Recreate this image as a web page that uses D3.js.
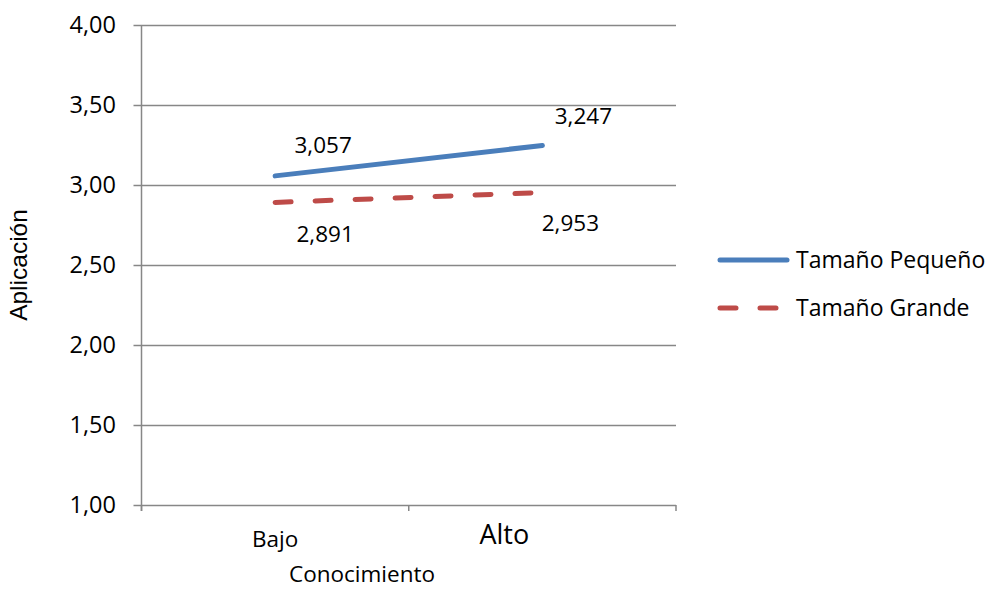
<!DOCTYPE html>
<html><head><meta charset="utf-8">
<script src="https://cdn.jsdelivr.net/npm/d3@7"></script>
<style>body{margin:0;background:#fff}text{fill:#000}</style>
</head><body>
<svg id="c" width="987" height="589"></svg>
<script>
const categories = ["Bajo", "Alto"];
const seriesNames = ["Tamaño Pequeño", "Tamaño Grande"];
const pequeno = [3.057, 3.247];
const grande = [2.891, 2.953];
const yTicks = [1.0, 1.5, 2.0, 2.5, 3.0, 3.5, 4.0];
const xTitle = "Conocimiento";
const yTitle = "Aplicación";

const svg = d3.select("#c");
const L = 141.5, R = 676, T = 25, B = 505;
const x = d3.scaleBand().domain(categories).range([L, R]);
const y = d3.scaleLinear().domain([1, 4]).range([B, T]);
const fmt = v => d3.format(".2f")(v).replace(".", ",");
const fmt3 = v => d3.format(".3f")(v).replace(".", ",");
const grid = "#878787";
const font = "'Open Sans', sans-serif";

// gridlines
svg.append("g").selectAll("line").data(yTicks).join("line")
  .attr("x1", L - 8).attr("x2", R)
  .attr("y1", d => Math.round(y(d)) + 0.5).attr("y2", d => Math.round(y(d)) + 0.5)
  .attr("stroke", grid).attr("stroke-width", 1.5);

// y axis line
svg.append("line").attr("x1", L).attr("x2", L).attr("y1", T).attr("y2", B + 6)
  .attr("stroke", grid).attr("stroke-width", 1.5);
// x tick marks at band edges
const edges = [L, ...categories.map(c => x(c) + x.bandwidth())];
svg.append("g").selectAll("line").data(edges).join("line")
  .attr("x1", d => d).attr("x2", d => d).attr("y1", B).attr("y2", B + 6)
  .attr("stroke", grid).attr("stroke-width", 1.5);

// y tick labels
svg.append("g").selectAll("text").data(yTicks).join("text")
  .attr("x", 116).attr("y", d => y(d) + 8).attr("text-anchor", "end")
  .attr("font-family", font).attr("font-size", 23.5).text(fmt);

// x category labels (different sizes as in reference)
svg.append("text").attr("x", x("Bajo") + x.bandwidth() / 2).attr("y", 547)
  .attr("text-anchor", "middle").attr("font-family", font).attr("font-size", 22.5).text(categories[0]);
svg.append("text").attr("x", x("Alto") + x.bandwidth() / 2 - 38).attr("y", 544)
  .attr("text-anchor", "middle").attr("font-family", font).attr("font-size", 27).text(categories[1]);

// axis titles
svg.append("text").attr("x", 362).attr("y", 582).attr("text-anchor", "middle")
  .attr("font-family", font).attr("font-size", 22.5).text(xTitle);
svg.append("text").attr("transform", "translate(27,265) rotate(-90)").attr("text-anchor", "middle")
  .attr("font-family", "'Liberation Sans', Arial, sans-serif").attr("font-size", 24.5).text(yTitle);

// lines
const cx = c => x(c) + x.bandwidth() / 2;
const line = d3.line().x((d, i) => cx(categories[i])).y(d => y(d));
svg.append("path").datum(pequeno).attr("d", line).attr("fill", "none")
  .attr("stroke", "#4a7ebb").attr("stroke-width", 5).attr("stroke-linecap", "round");
svg.append("path").datum(grande).attr("d", line).attr("fill", "none")
  .attr("stroke", "#be4b48").attr("stroke-width", 5).attr("stroke-linecap", "round")
  .attr("stroke-dasharray", "16,24");

// data labels
const lab = [
  {v: pequeno[0], i: 0, dx: 48, dy: -23},
  {v: pequeno[1], i: 1, dx: 41, dy: -21},
  {v: grande[0], i: 0, dx: 50, dy: 40},
  {v: grande[1], i: 1, dx: 28, dy: 38}
];
svg.append("g").selectAll("text").data(lab).join("text")
  .attr("x", d => cx(categories[d.i]) + d.dx).attr("y", d => y(d.v) + d.dy)
  .attr("text-anchor", "middle").attr("font-family", font).attr("font-size", 22.5)
  .text(d => fmt3(d.v));

// legend
const leg = svg.append("g");
const lg = [{n: seriesNames[0], c: "#4a7ebb", dash: null, y: 260},
            {n: seriesNames[1], c: "#be4b48", dash: "16,24", y: 308}];
lg.forEach(d => {
  leg.append("line").attr("x1", 720).attr("x2", 787).attr("y1", d.y).attr("y2", d.y)
    .attr("stroke", d.c).attr("stroke-width", 5).attr("stroke-linecap", "round")
    .attr("stroke-dasharray", d.dash);
  leg.append("text").attr("x", 796).attr("y", d.y + 8).attr("font-family", font)
    .attr("font-size", 23).text(d.n);
});
</script>
</body></html>
